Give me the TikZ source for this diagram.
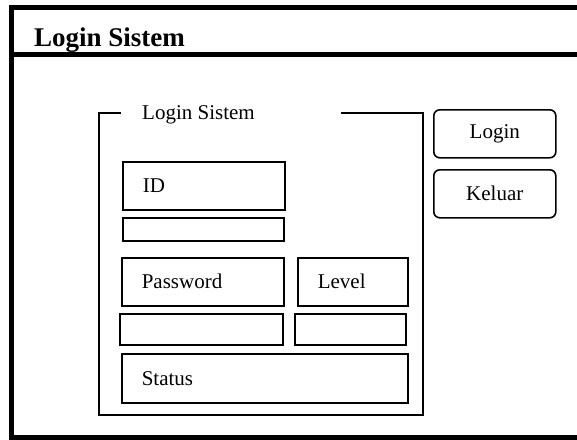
\documentclass[tikz,border=0pt]{standalone}
\usepackage{fontspec}
\setmainfont{Liberation Serif}
\usepackage{tikz}
\usetikzlibrary{positioning}
\tikzset{frm/.style={line width=5.5pt},
  grp/.style={line width=1.6pt},
  fld/.style={draw,line width=1.6pt,anchor=north west,inner xsep=20pt,inner ysep=0pt,align=left,font=\fontsize{21}{24}\selectfont},
  inp/.style={draw,line width=1.6pt,anchor=north west,inner sep=0pt},
  btn/.style={draw,line width=1.6pt,rounded corners=6pt,anchor=north west,inner sep=0pt,minimum width=122pt,minimum height=48pt,font=\fontsize{21}{24}\selectfont}}

\begin{document}
\begin{tikzpicture}[x=1pt,y=-1pt]
    \useasboundingbox (0,0) rectangle (577,439);
    \clip (0,0) rectangle (577,439);

    % window
    \draw[frm] (580,7.5) -- (11.5,7.5) -- (11.5,437.5) -- (580,437.5);
    \draw[frm] (11.5,54.5) -- (580,54.5);
    \node[anchor=base west,inner sep=0pt,font=\fontsize{27}{30}\selectfont\bfseries] (judul) at (34,46) {Login Sistem};

    % group
    \node[anchor=base west,inner sep=0pt,font=\fontsize{21}{24}\selectfont] (grup) at (142,119) {Login Sistem};
    \draw[grp] (121,113) -- (99,113) -- (99,415) -- (423,415) -- (423,113) -- (341,113);

    \node[fld,text width=122pt,minimum height=48pt] (id) at (122,161) {ID};
    \node[inp,minimum width=161pt,minimum height=23pt] (idin) at (122,217) {};
    \node[fld,text width=122pt,minimum height=48pt] (pass) at (121,257) {Password};
    \node[fld,text width=70pt,minimum height=48pt] (level) at (297,257) {Level};
    \node[inp,minimum width=163pt,minimum height=31pt] (passin) at (119,313) {};
    \node[inp,minimum width=111pt,minimum height=31pt] (levelin) at (294,313) {};
    \node[fld,text width=246pt,minimum height=49pt] (status) at (121,353) {Status};

    % buttons
    \node[btn] (login) at (433,109) {Login};
    \node[btn] (keluar) at (433,169) {Keluar};
\end{tikzpicture}
\end{document}
